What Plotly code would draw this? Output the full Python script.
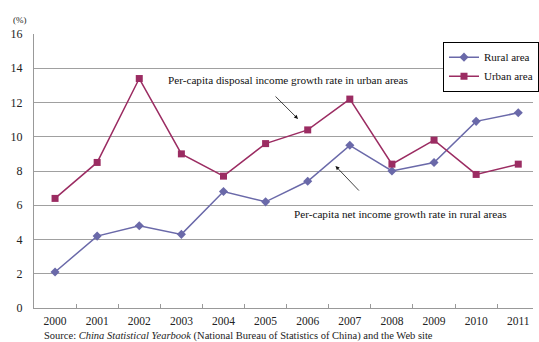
import plotly.graph_objects as go

# Income growth rates, China (%)
years = ["2000", "2001", "2002", "2003", "2004", "2005",
         "2006", "2007", "2008", "2009", "2010", "2011"]
rural = [2.1, 4.2, 4.8, 4.3, 6.8, 6.2, 7.4, 9.5, 8.0, 8.5, 10.9, 11.4]
urban = [6.4, 8.5, 13.4, 9.0, 7.7, 9.6, 10.4, 12.2, 8.4, 9.8, 7.8, 8.4]

RURAL_COLOR = "#6a69a9"
URBAN_COLOR = "#9b2c62"
FONT = "Liberation Serif"

idx = list(range(len(years)))

fig = go.Figure()
fig.add_trace(go.Scatter(
    x=idx, y=rural, name="Rural area", mode="lines+markers",
    line=dict(color=RURAL_COLOR, width=1.5),
    marker=dict(symbol="diamond", size=7, color=RURAL_COLOR),
))
fig.add_trace(go.Scatter(
    x=idx, y=urban, name="Urban area", mode="lines+markers",
    line=dict(color=URBAN_COLOR, width=1.5),
    marker=dict(symbol="square", size=7, color=URBAN_COLOR),
))

fig.update_layout(
    width=539, height=342,
    margin=dict(l=34, r=0, t=34, b=34),
    paper_bgcolor="white", plot_bgcolor="white",
    font=dict(family=FONT, size=12, color="#222"),
    showlegend=True,
    legend=dict(
        x=0.82, y=0.972, xanchor="left", yanchor="top",
        bgcolor="white", bordercolor="black", borderwidth=1,
        font=dict(family=FONT, size=11, color="#111"),
        itemwidth=30, tracegroupgap=4,
    ),
)

fig.update_xaxes(
    range=[-0.5, 11.35],
    tickmode="array", tickvals=idx, ticktext=years,
    ticks="", showgrid=False, zeroline=False,
    showline=True, linecolor="#999", linewidth=1,
    ticklabelstandoff=2,
    minor=dict(tickmode="array", tickvals=[i + 0.5 for i in idx[:-1]],
               ticks="inside", ticklen=4, tickcolor="#999", showgrid=False),
    tickfont=dict(family=FONT, size=11.5, color="#222"),
)
fig.update_yaxes(
    range=[0, 16], dtick=2, tick0=0,
    showgrid=True, gridcolor="#a0a0a0", gridwidth=1,
    zeroline=False, showline=True, linecolor="#999", linewidth=1,
    ticks="", ticklabelstandoff=8,
    tickfont=dict(family=FONT, size=12, color="#222"),
)

annotations = [
    dict(text="Per-capita disposal income growth rate in urban areas",
         x=5.53, y=13.31, xref="x", yref="y", showarrow=False,
         font=dict(family=FONT, size=11.2, color="#111")),
    dict(text="", x=5.77, y=11.04, ax=5.20, ay=12.44,
         xref="x", yref="y", axref="x", ayref="y",
         showarrow=True, arrowhead=2, arrowsize=1, arrowwidth=0.8,
         arrowcolor="#111", standoff=0, startstandoff=0),
    dict(text="Per-capita net income growth rate in rural areas",
         x=8.2, y=5.49, xref="x", yref="y", showarrow=False,
         font=dict(family=FONT, size=11.2, color="#111")),
    dict(text="", x=6.66, y=8.29, ax=7.25, ay=6.77,
         xref="x", yref="y", axref="x", ayref="y",
         showarrow=True, arrowhead=2, arrowsize=1, arrowwidth=0.8,
         arrowcolor="#111", standoff=0, startstandoff=0),
    dict(text="(%)", x=-0.028, y=1.051, xref="paper", yref="paper",
         xanchor="center", yanchor="middle", showarrow=False,
         font=dict(family=FONT, size=9, color="#222")),
    dict(text="Source: <i>China Statistical Yearbook</i> (National Bureau of "
              "Statistics of China) and the Web site",
         x=0.016, y=-0.1004, xref="paper", yref="paper",
         xanchor="left", yanchor="middle", showarrow=False,
         font=dict(family=FONT, size=10.5, color="#222")),
]
fig.update_layout(annotations=annotations)

fig.write_html("out.html")
